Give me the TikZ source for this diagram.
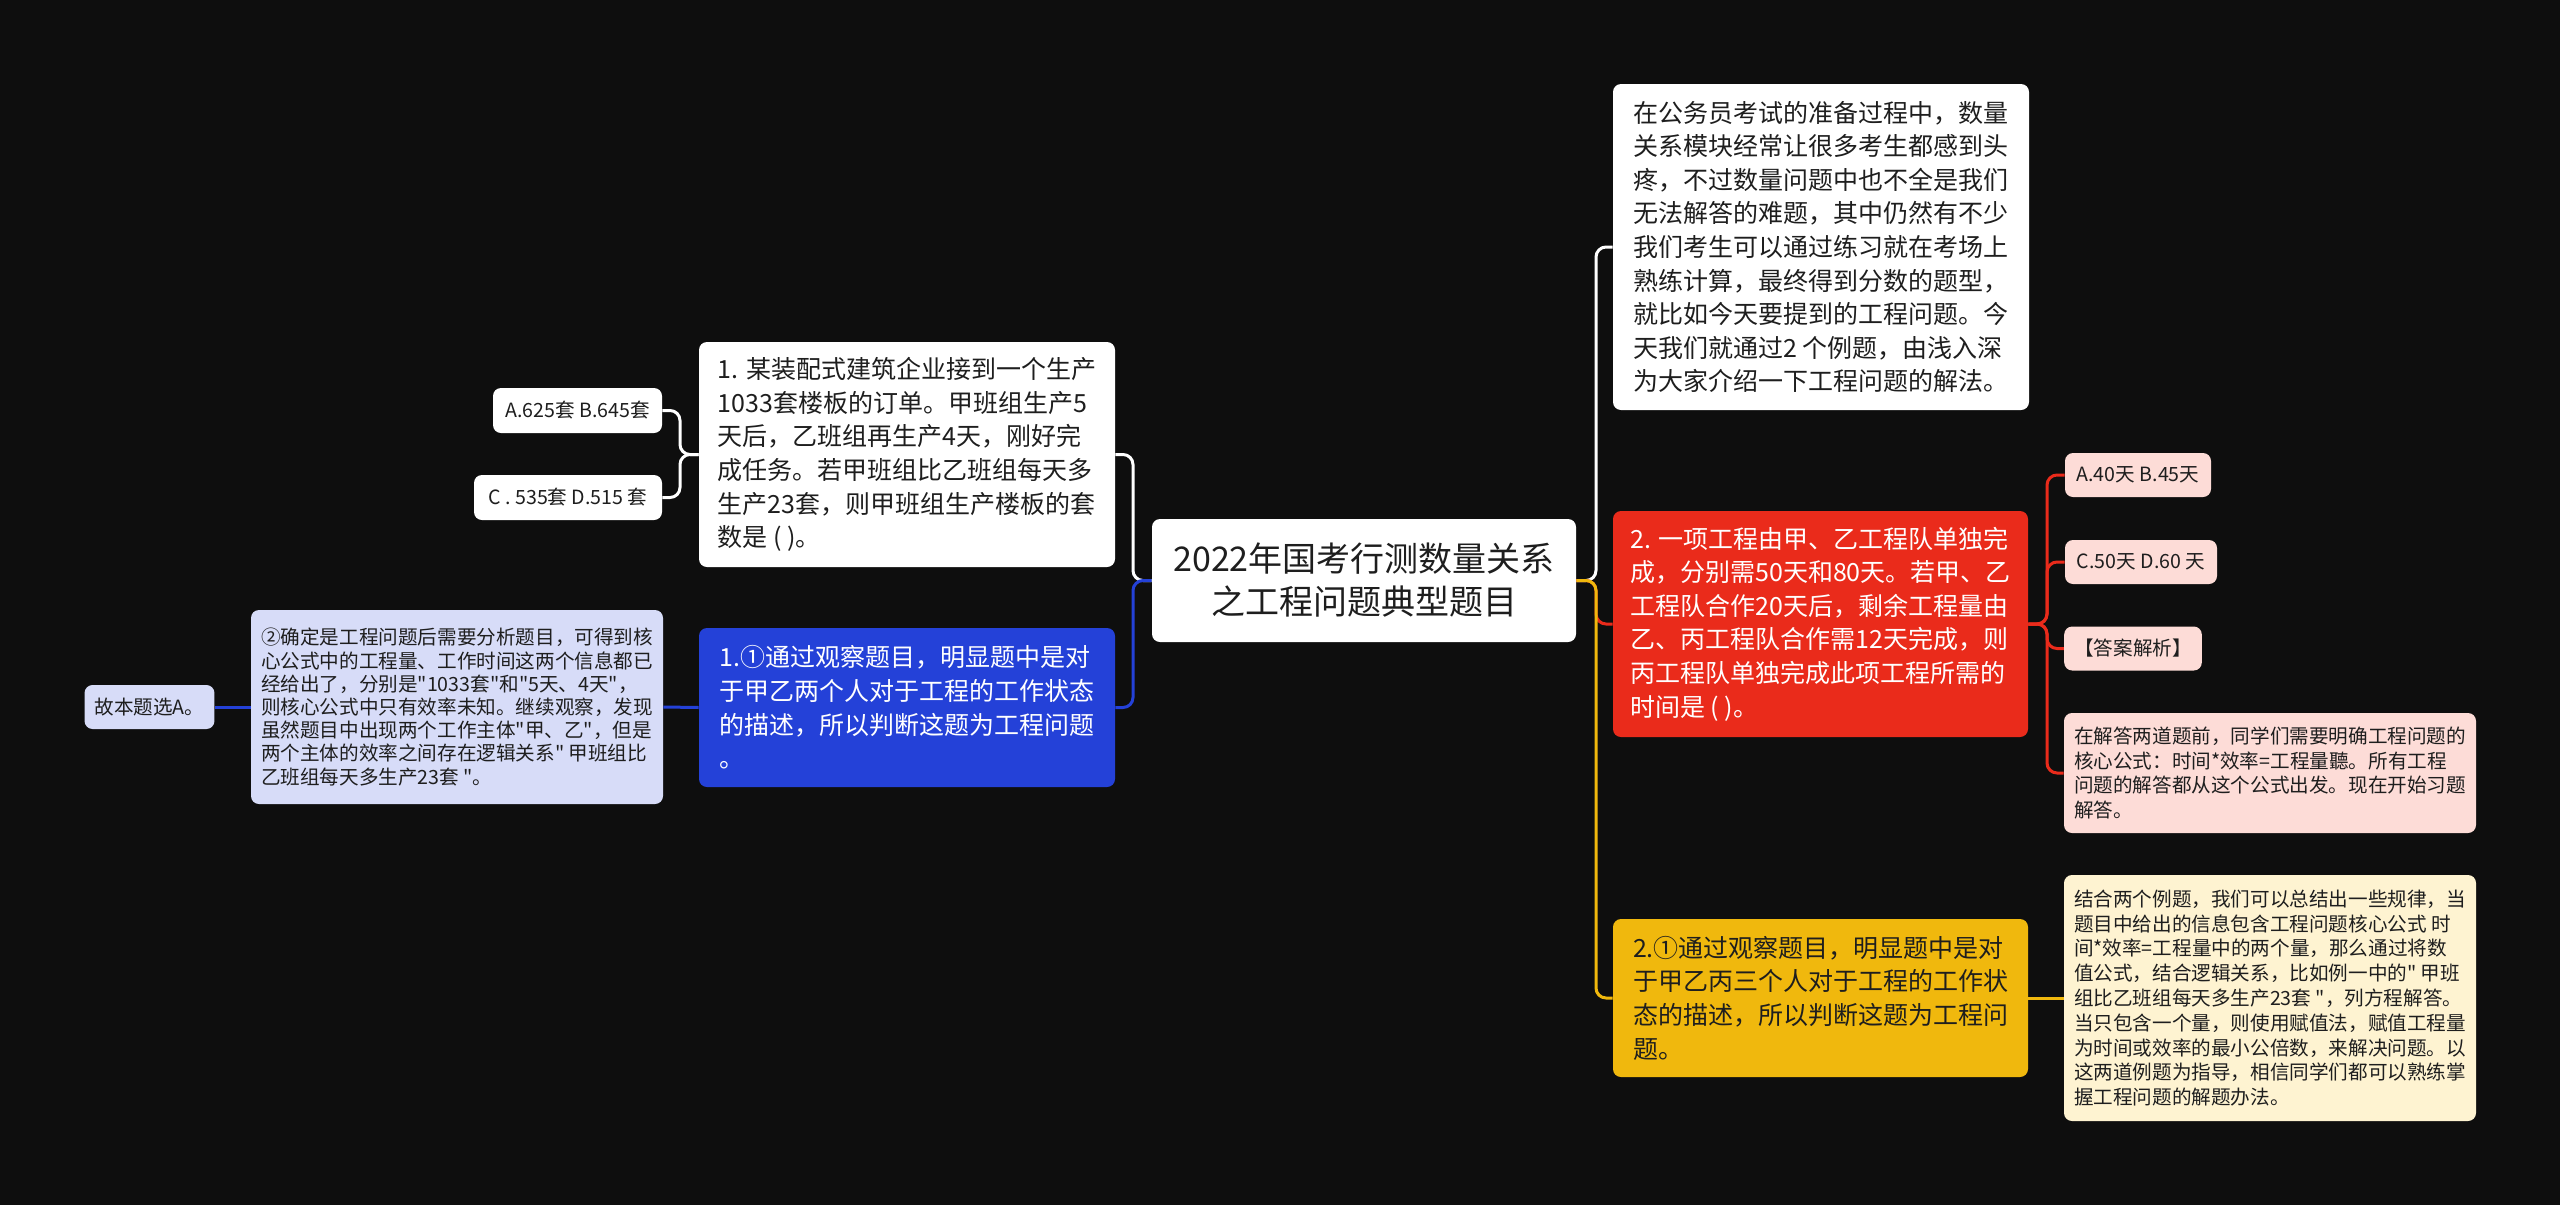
\documentclass[tikz,border=0pt]{standalone}
\usepackage{fontspec}
\setmainfont{Noto Sans CJK SC}[Ligatures=TeXOff]
\definecolor{bg}{HTML}{0E0E0E}
\definecolor{ink}{HTML}{1E1E1E}
\definecolor{qblue}{HTML}{2441D8}
\definecolor{qred}{HTML}{EA2B1B}
\definecolor{qgold}{HTML}{F0B80D}
\definecolor{tippink}{HTML}{FDDCD7}
\definecolor{tipcream}{HTML}{FEF3D1}
\definecolor{tiplilac}{HTML}{D7DCF8}
\begin{document}
\begin{tikzpicture}[x=0.5pt,y=-0.5pt,
  box/.style={rounded corners=4pt,inner xsep=6.5pt,align=left,font=\fontsize{12.5}{16.8}\selectfont},
  tip/.style={rounded corners=4pt,inner xsep=5pt,align=left,text=ink,font=\fontsize{9.8}{12.4}\selectfont},
  link/.style={line width=1.5pt,rounded corners=5pt}]

\fill[bg] (0,0) rectangle (2560,1205);
\useasboundingbox (0,0) rectangle (2560,1205);

\node[box,fill=white,text=ink,align=center,minimum width=212pt,minimum height=61.5pt,
      font=\fontsize{17}{21.5}\selectfont] (root) at (1364,580.5) {2022年国考行测数量关系\\之工程问题典型题目};

% right side
\node[box,fill=white,text=ink,minimum width=208pt,minimum height=163pt] (intro) at (1821,247)
  {在公务员考试的准备过程中，数量\\关系模块经常让很多考生都感到头\\疼，不过数量问题中也不全是我们\\无法解答的难题，其中仍然有不少\\我们考生可以通过练习就在考场上\\熟练计算，最终得到分数的题型，\\就比如今天要提到的工程问题。今\\天我们就通过2 个例题，由浅入深\\为大家介绍一下工程问题的解法。};
\node[box,fill=qred,text=white,minimum width=207.5pt,minimum height=113pt] (red) at (1820.5,624)
  {2. 一项工程由甲、乙工程队单独完\\成，分别需50天和80天。若甲、乙\\工程队合作20天后，剩余工程量由\\乙、丙工程队合作需12天完成，则\\丙工程队单独完成此项工程所需的\\时间是 ( )。};
\node[box,fill=qgold,text=ink,minimum width=207.5pt,minimum height=79pt] (gold) at (1820.5,998)
  {2.①通过观察题目，明显题中是对\\于甲乙丙三个人对于工程的工作状\\态的描述，所以判断这题为工程问\\题。};

\begin{scope}[every node/.style={tip,fill=tippink,minimum height=22pt}]
  \node[minimum width=73pt] (pA) at (2138,475) {A.40天 B.45天};
  \node[minimum width=76pt] (pC) at (2141,562) {C.50天 D.60 天};
  \node[minimum width=68pt] (pJ) at (2133,648.5) {【答案解析】};
  \node[minimum width=205pt,minimum height=60pt] (pL) at (2270,773)
    {在解答两道题前，同学们需要明确工程问题的\\核心公式：时间*效率=工程量聽。所有工程\\问题的解答都从这个公式出发。现在开始习题\\解答。};
\end{scope}
\node[tip,fill=tipcream,minimum width=205pt,minimum height=123pt] (cream) at (2270,998)
  {结合两个例题，我们可以总结出一些规律，当\\题目中给出的信息包含工程问题核心公式 时\\间*效率=工程量中的两个量，那么通过将数\\值公式，结合逻辑关系，比如例一中的" 甲班\\组比乙班组每天多生产23套 "，列方程解答。\\当只包含一个量，则使用赋值法，赋值工程量\\为时间或效率的最小公倍数，来解决问题。以\\这两道例题为指导，相信同学们都可以熟练掌\\握工程问题的解题办法。};

% left side
\node[box,fill=white,text=ink,minimum width=208pt,minimum height=112.5pt] (q1) at (907,454.5)
  {1. 某装配式建筑企业接到一个生产\\1033套楼板的订单。甲班组生产5\\天后，乙班组再生产4天，刚好完\\成任务。若甲班组比乙班组每天多\\生产23套，则甲班组生产楼板的套\\数是 ( )。};
\node[box,fill=qblue,text=white,minimum width=208pt,minimum height=79.5pt] (blue) at (907,707.5)
  {1.①通过观察题目，明显题中是对\\于甲乙两个人对于工程的工作状态\\的描述，所以判断这题为工程问题\\。};
\node[tip,fill=white,minimum width=84.5pt,minimum height=22.5pt] (optA) at (577.5,410.5) {A.625套 B.645套};
\node[tip,fill=white,minimum width=94pt,minimum height=22.5pt] (optC) at (568,497.5) {C . 535套 D.515 套};
\node[tip,fill=tiplilac,minimum width=205pt,minimum height=97pt,font=\fontsize{9.8}{11.6}\selectfont] (lav) at (457,707)
  {②确定是工程问题后需要分析题目，可得到核\\心公式中的工程量、工作时间这两个信息都已\\经给出了，分别是"1033套"和"5天、4天"，\\则核心公式中只有效率未知。继续观察，发现\\虽然题目中出现两个工作主体"甲、乙"，但是\\两个主体的效率之间存在逻辑关系" 甲班组比\\乙班组每天多生产23套 "。};
\node[tip,fill=tiplilac,minimum width=64.5pt,minimum height=22pt] (ans) at (149.5,707) {故本题选A。};

\coordinate (rfork) at (1596,580.5);
\coordinate (lfork) at (1133,580.5);
\coordinate (qfork) at (680,454.5);
\coordinate (afork) at (2047,624);

\draw[link,white] (root.east) -- (rfork) |- (intro.west);
\draw[link,qred] (root.east) -- (rfork) |- (red.west);
\draw[link,qgold] (root.east) -- (rfork) |- (gold.west);
\foreach \n in {pA,pC,pJ,pL}
  \draw[link,qred] (red.east) -- (afork) |- (\n.west);
\draw[link,qgold] (gold.east) -- (cream.west);

\draw[link,white] (root.west) -- (lfork) |- (q1.east);
\draw[link,qblue] (root.west) -- (lfork) |- (blue.east);
\draw[link,white] (q1.west) -- (qfork) |- (optA.east);
\draw[link,white] (q1.west) -- (qfork) |- (optC.east);
\draw[link,qblue] (blue.west) -- (lav.east);
\draw[link,qblue] (lav.west) -- (ans.east);

\end{tikzpicture}
\end{document}
